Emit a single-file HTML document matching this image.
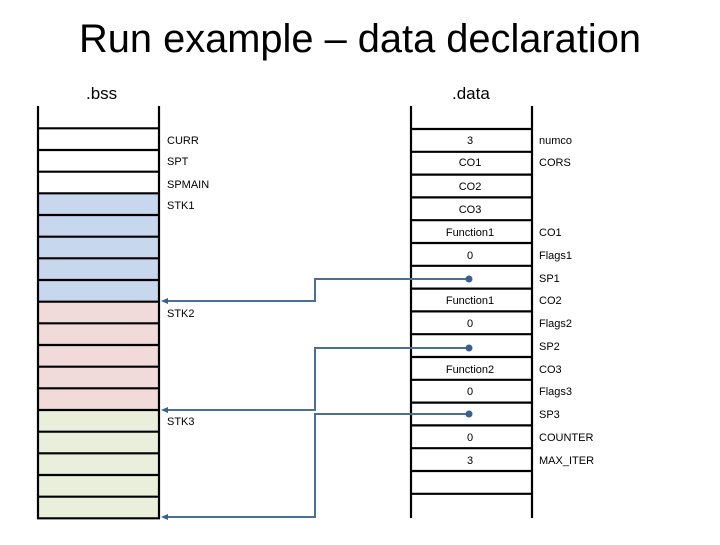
<!DOCTYPE html>
<html><head><style>
body{margin:0;background:#fff;}
svg text{font-family:"Liberation Sans",sans-serif;}
</style></head><body>
<svg width="720" height="540" xmlns="http://www.w3.org/2000/svg">
<text x="360" y="52" font-size="40" text-anchor="middle" fill="#000" textLength="562" lengthAdjust="spacingAndGlyphs">Run example – data declaration</text>
<text x="86" y="99" font-size="17">.bss</text>
<text x="452" y="99" font-size="17">.data</text>
<rect x="38" y="193.3" width="121" height="108.4" fill="#c6d7ee"/>
<rect x="38" y="301.7" width="121" height="108.3" fill="#f0dada"/>
<rect x="38" y="410" width="121" height="108" fill="#eaefdc"/>
<g stroke="#000" stroke-width="2.2">
<line x1="38" y1="106" x2="38" y2="519"/>
<line x1="159" y1="106" x2="159" y2="519"/>
<line x1="37" y1="128.3" x2="160" y2="128.3"/>
<line x1="37" y1="150" x2="160" y2="150"/>
<line x1="37" y1="171.7" x2="160" y2="171.7"/>
<line x1="37" y1="193.3" x2="160" y2="193.3"/>
<line x1="37" y1="215" x2="160" y2="215"/>
<line x1="37" y1="236.7" x2="160" y2="236.7"/>
<line x1="37" y1="258.3" x2="160" y2="258.3"/>
<line x1="37" y1="280" x2="160" y2="280"/>
<line x1="37" y1="301.7" x2="160" y2="301.7"/>
<line x1="37" y1="323.3" x2="160" y2="323.3"/>
<line x1="37" y1="345" x2="160" y2="345"/>
<line x1="37" y1="366.7" x2="160" y2="366.7"/>
<line x1="37" y1="388.3" x2="160" y2="388.3"/>
<line x1="37" y1="410" x2="160" y2="410"/>
<line x1="37" y1="431.7" x2="160" y2="431.7"/>
<line x1="37" y1="453.3" x2="160" y2="453.3"/>
<line x1="37" y1="475" x2="160" y2="475"/>
<line x1="37" y1="496.7" x2="160" y2="496.7"/>
<line x1="37" y1="518.3" x2="160" y2="518.3"/>
<line x1="411" y1="106" x2="411" y2="518"/>
<line x1="532" y1="106" x2="532" y2="518"/>
<line x1="410" y1="129" x2="533" y2="129"/>
<line x1="410" y1="151.8" x2="533" y2="151.8"/>
<line x1="410" y1="174.6" x2="533" y2="174.6"/>
<line x1="410" y1="197.4" x2="533" y2="197.4"/>
<line x1="410" y1="220.2" x2="533" y2="220.2"/>
<line x1="410" y1="243" x2="533" y2="243"/>
<line x1="410" y1="265.8" x2="533" y2="265.8"/>
<line x1="410" y1="288.6" x2="533" y2="288.6"/>
<line x1="410" y1="311.4" x2="533" y2="311.4"/>
<line x1="410" y1="334.2" x2="533" y2="334.2"/>
<line x1="410" y1="357" x2="533" y2="357"/>
<line x1="410" y1="379.8" x2="533" y2="379.8"/>
<line x1="410" y1="402.6" x2="533" y2="402.6"/>
<line x1="410" y1="425.4" x2="533" y2="425.4"/>
<line x1="410" y1="448.2" x2="533" y2="448.2"/>
<line x1="410" y1="471" x2="533" y2="471"/>
<line x1="410" y1="493.8" x2="533" y2="493.8"/>
</g>
<g font-size="11" fill="#000">
<text x="167" y="144">CURR</text>
<text x="167" y="165">SPT</text>
<text x="167" y="188">SPMAIN</text>
<text x="167" y="209">STK1</text>
<text x="167" y="317">STK2</text>
<text x="167" y="425">STK3</text>
</g>
<g font-size="11" fill="#000" text-anchor="middle">
<text x="470" y="144">3</text>
<text x="470" y="166">CO1</text>
<text x="470" y="190">CO2</text>
<text x="470" y="213">CO3</text>
<text x="470" y="236">Function1</text>
<text x="470" y="259">0</text>
<text x="470" y="304">Function1</text>
<text x="470" y="327">0</text>
<text x="470" y="373">Function2</text>
<text x="470" y="395">0</text>
<text x="470" y="441">0</text>
<text x="470" y="464">3</text>
</g>
<g font-size="11" fill="#000">
<text x="539" y="144">numco</text>
<text x="539" y="166">CORS</text>
<text x="539" y="236">CO1</text>
<text x="539" y="259">Flags1</text>
<text x="539" y="282">SP1</text>
<text x="539" y="304">CO2</text>
<text x="539" y="327">Flags2</text>
<text x="539" y="350">SP2</text>
<text x="539" y="373">CO3</text>
<text x="539" y="395">Flags3</text>
<text x="539" y="418">SP3</text>
<text x="539" y="441">COUNTER</text>
<text x="539" y="464">MAX_ITER</text>
</g>
<g stroke="#4a6f96" stroke-width="2" fill="none">
<polyline points="469,279 315,279 315,301 166,301"/>
<polyline points="469,348 315,348 315,410 166,410"/>
<polyline points="469,414 315,414 315,517 166,517"/>
</g>
<g fill="#3d5f8f">
<circle cx="469" cy="279" r="3.5"/>
<circle cx="469" cy="348" r="3.5"/>
<circle cx="469" cy="414" r="3.5"/>
<polygon points="161,301 168,298 168,304"/>
<polygon points="161,410 168,407 168,413"/>
<polygon points="161,517 168,514 168,520"/>
</g>
</svg>
</body></html>
